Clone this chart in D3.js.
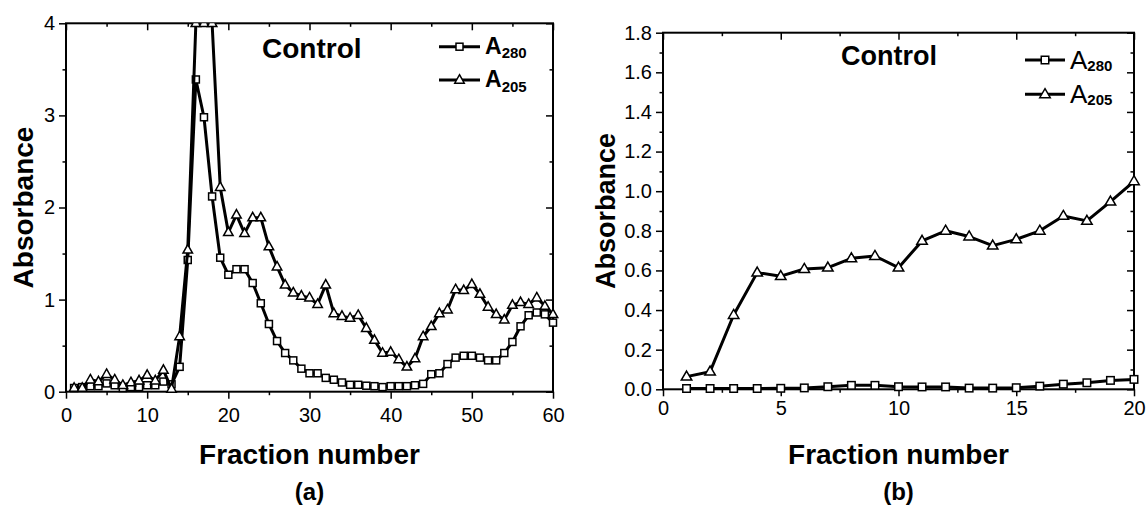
<!DOCTYPE html>
<html>
<head>
<meta charset="utf-8">
<script src="https://cdn.jsdelivr.net/npm/d3@7"></script>
<style>
  html, body { margin: 0; padding: 0; background: #fff; }
  svg { display: block; font-family: "Liberation Sans", Arial, sans-serif; }
</style>
</head>
<body>
<svg id="chart" width="1146" height="507"></svg>
<script>
// ---------------- DATA ----------------
const fractionsA = d3.range(1, 61);
const a280A = [0.04,0.05,0.06,0.06,0.09,0.07,0.04,0.05,0.05,0.07,0.07,0.11,0.08,0.27,1.43,3.39,2.98,2.12,1.455,1.27,
               1.33,1.33,1.18,0.96,0.735,0.55,0.42,0.34,0.25,0.2,0.2,0.15,0.13,0.1,0.075,0.075,0.065,0.06,0.05,0.06,
               0.06,0.06,0.07,0.085,0.19,0.2,0.3,0.37,0.39,0.39,0.37,0.34,0.34,0.42,0.54,0.71,0.83,0.86,0.84,0.75];
const a205A = [0.04,0.04,0.13,0.11,0.19,0.13,0.07,0.1,0.12,0.18,0.12,0.235,0.03,0.6,1.54,4,4,4,2.22,1.73,
               1.92,1.72,1.89,1.89,1.575,1.357,1.16,1.075,1.04,1.02,0.95,1.16,0.85,0.82,0.8,0.83,0.69,0.56,0.42,0.43,
               0.35,0.27,0.36,0.6,0.71,0.85,0.89,1.11,1.10,1.166,1.06,0.92,0.84,0.78,0.94,0.97,0.95,1.02,0.93,0.84];

const fractionsB = d3.range(1, 21);
const a280B = [0.004,0.004,0.004,0.004,0.005,0.007,0.013,0.02,0.02,0.013,0.012,0.012,0.006,0.006,0.008,0.016,0.026,0.033,0.045,0.05];
const a205B = [0.064,0.089,0.375,0.589,0.571,0.607,0.614,0.661,0.673,0.614,0.749,0.80,0.771,0.725,0.757,0.80,0.875,0.85,0.947,1.05];

const xTicksA = [0,10,20,30,40,50,60];
const xMinorA = [5,15,25,35,45,55];
const yTicksA = [0,1,2,3,4];
const yMinorA = [0.5,1.5,2.5,3.5];

const xTicksB = [0,5,10,15,20];
const xMinorB = [2.5,7.5,12.5,17.5];
const yTicksB = [0,0.2,0.4,0.6,0.8,1.0,1.2,1.4,1.6,1.8];
const yMinorB = [0.1,0.3,0.5,0.7,0.9,1.1,1.3,1.5,1.7];

// ---------------- DRAW ----------------
const svg = d3.select("#chart");

function panel(cfg) {
  const g = svg.append("g");
  const x = d3.scaleLinear().domain(cfg.xDomain).range([cfg.left, cfg.right]);
  const y = d3.scaleLinear().domain(cfg.yDomain).range([cfg.bottom, cfg.top]);

  const clipId = "clip" + cfg.id;
  svg.append("defs").append("clipPath").attr("id", clipId)
    .append("rect").attr("x", cfg.left - 10).attr("y", cfg.top)
    .attr("width", cfg.right - cfg.left + 20).attr("height", cfg.bottom - cfg.top + 20);

  const major = 7, minor = 3.5;
  const styleAxis = sel => {
    sel.select(".domain").remove();
    sel.selectAll("line").attr("stroke", "#000").attr("stroke-width", 1.5);
    sel.selectAll("text").attr("fill", "#000").style("font-size", "20px")
      .style("font-family", "'Liberation Sans', Arial, sans-serif");
  };
  g.append("g").attr("transform", `translate(0,${cfg.bottom})`)
    .call(d3.axisBottom(x).tickValues(cfg.xTicks).tickSize(major).tickPadding(cfg.xPad).tickFormat(cfg.xFmt))
    .call(styleAxis);
  g.append("g").attr("transform", `translate(0,${cfg.bottom})`)
    .call(d3.axisBottom(x).tickValues(cfg.xMinor).tickSize(minor).tickFormat(""))
    .call(styleAxis);
  g.append("g").attr("transform", `translate(${cfg.left},0)`)
    .call(d3.axisLeft(y).tickValues(cfg.yTicks).tickSize(major).tickPadding(4).tickFormat(cfg.yFmt))
    .call(styleAxis);
  g.append("g").attr("transform", `translate(${cfg.left},0)`)
    .call(d3.axisLeft(y).tickValues(cfg.yMinor).tickSize(minor).tickFormat(""))
    .call(styleAxis);
  g.append("g").attr("transform", `translate(0,${cfg.top})`)
    .call(d3.axisTop(x).tickValues(cfg.xTicks).tickSizeInner(-major).tickSizeOuter(0).tickFormat(""))
    .call(styleAxis);
  g.append("g").attr("transform", `translate(0,${cfg.top})`)
    .call(d3.axisTop(x).tickValues(cfg.xMinor).tickSizeInner(-minor).tickSizeOuter(0).tickFormat(""))
    .call(styleAxis);
  g.append("g").attr("transform", `translate(${cfg.right},0)`)
    .call(d3.axisRight(y).tickValues(cfg.yTicks).tickSizeInner(-major).tickSizeOuter(0).tickFormat(""))
    .call(styleAxis);
  g.append("g").attr("transform", `translate(${cfg.right},0)`)
    .call(d3.axisRight(y).tickValues(cfg.yMinor).tickSizeInner(-minor).tickSizeOuter(0).tickFormat(""))
    .call(styleAxis);

  g.append("rect").attr("x", cfg.left).attr("y", cfg.top)
    .attr("width", cfg.right - cfg.left).attr("height", cfg.bottom - cfg.top)
    .attr("fill", "none").attr("stroke", "#000").attr("stroke-width", 2);

  const plot = g.append("g").attr("clip-path", `url(#${clipId})`);
  const line = d3.line().x(d => x(d[0])).y(d => y(d[1]));
  const sq = cfg.sq, tw = cfg.tw, th = cfg.th;
  const triPath = (cx, cy) => `M${cx},${cy - th * 0.62}L${cx + tw / 2},${cy + th * 0.38}L${cx - tw / 2},${cy + th * 0.38}Z`;

  cfg.series.forEach(s => {
    const pts = cfg.xs.map((v, i) => [v, s.values[i]]);
    plot.append("path").attr("d", line(pts)).attr("fill", "none")
      .attr("stroke", "#000").attr("stroke-width", cfg.lw).attr("stroke-linejoin", "round");
    pts.forEach(p => {
      const cx = x(p[0]), cy = y(p[1]);
      if (s.shape === "square") {
        plot.append("rect").attr("x", cx - sq / 2).attr("y", cy - sq / 2)
          .attr("width", sq).attr("height", sq).attr("fill", "#fff")
          .attr("stroke", "#000").attr("stroke-width", 1.5);
      } else {
        plot.append("path").attr("d", triPath(cx, cy)).attr("fill", "#fff")
          .attr("stroke", "#000").attr("stroke-width", 1.5).attr("stroke-linejoin", "miter");
      }
    });
  });

  g.append("text").attr("x", (cfg.left + cfg.right) / 2).attr("y", 464)
    .attr("text-anchor", "middle").style("font-size", "28px").style("font-weight", "bold")
    .text("Fraction number");
  g.append("text").attr("transform", `translate(${cfg.yTitleX},${(cfg.top + cfg.bottom) / 2}) rotate(-90)`)
    .attr("text-anchor", "middle").style("font-size", cfg.yTitleSize).style("font-weight", "bold")
    .text("Absorbance");
  g.append("text").attr("x", (cfg.left + cfg.right) / 2).attr("y", 500)
    .attr("text-anchor", "middle").style("font-size", "24px").style("font-weight", "bold")
    .text(cfg.label);

  g.append("text").attr("x", cfg.ctrlX).attr("y", cfg.ctrlY)
    .style("font-size", cfg.ctrlSize).style("font-weight", "bold").text("Control");

  cfg.series.forEach((s, i) => {
    const ly = cfg.legY[i];
    g.append("line").attr("x1", cfg.legX1).attr("x2", cfg.legX2).attr("y1", ly).attr("y2", ly)
      .attr("stroke", "#000").attr("stroke-width", cfg.lw);
    const cx = (cfg.legX1 + cfg.legX2) / 2;
    if (s.shape === "square") {
      g.append("rect").attr("x", cx - sq / 2).attr("y", ly - sq / 2).attr("width", sq).attr("height", sq)
        .attr("fill", "#fff").attr("stroke", "#000").attr("stroke-width", 1.5);
    } else {
      g.append("path").attr("d", triPath(cx, ly)).attr("fill", "#fff").attr("stroke", "#000").attr("stroke-width", 1.5);
    }
    const t = g.append("text").attr("x", cfg.legX2 + 5).attr("y", ly + cfg.legBase);
    t.append("tspan").style("font-size", cfg.legASize).style("font-weight", cfg.legAWeight).text("A");
    t.append("tspan").attr("dy", cfg.subDy).style("font-size", "15px").style("font-weight", "bold").text(s.sub);
  });
}

panel({
  id: "a", left: 66, right: 553, top: 23.3, bottom: 391.7,
  xDomain: [0, 60], yDomain: [0, 4],
  xTicks: xTicksA, xMinor: xMinorA, yTicks: yTicksA, yMinor: yMinorA,
  xFmt: d3.format("d"), yFmt: d3.format("d"), xPad: 9,
  xs: fractionsA,
  series: [{ values: a280A, shape: "square", sub: "280" }, { values: a205A, shape: "triangle", sub: "205" }],
  sq: 7, tw: 9.5, th: 8.5, lw: 3,
  yTitleX: 33, yTitleSize: "28px", label: "(a)",
  ctrlX: 262, ctrlY: 58, ctrlSize: "28px",
  legX1: 439, legX2: 480, legY: [46.7, 80], legBase: 7, legASize: "23px", legAWeight: "bold", subDy: 4.5
});

panel({
  id: "b", left: 663, right: 1134, top: 32.7, bottom: 389.3,
  xDomain: [0, 20], yDomain: [0, 1.8],
  xTicks: xTicksB, xMinor: xMinorB, yTicks: yTicksB, yMinor: yMinorB,
  xFmt: d3.format("d"), yFmt: d3.format(".1f"), xPad: 5,
  xs: fractionsB,
  series: [{ values: a280B, shape: "square", sub: "280" }, { values: a205B, shape: "triangle", sub: "205" }],
  sq: 7.5, tw: 10.5, th: 9, lw: 3,
  yTitleX: 615, yTitleSize: "27px", label: "(b)",
  ctrlX: 841, ctrlY: 65, ctrlSize: "27px",
  legX1: 1025, legX2: 1065, legY: [60, 94.3], legBase: 9, legASize: "26px", legAWeight: "normal", subDy: 2
});
</script>
</body>
</html>
